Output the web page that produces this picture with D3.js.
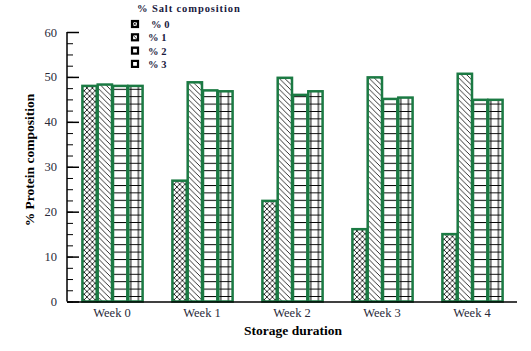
<!DOCTYPE html>
<html>
<head>
<meta charset="utf-8">
<script src="https://cdn.jsdelivr.net/npm/d3@7"></script>
<style>
  body { margin: 0; background: #fff; }
  svg text { font-family: "Liberation Serif", "Times New Roman", serif !important; }
</style>
</head>
<body>
<div id="chart"></div>
<script>
// data
var weeks = ["Week 0", "Week 1", "Week 2", "Week 3", "Week 4"];
var salts = ["% 0", "% 1", "% 2", "% 3"];
var salt0 = [48.0, 26.9, 22.4, 16.1, 15.0];
var salt1 = [48.3, 48.8, 49.8, 49.9, 50.7];
var salt2 = [48.0, 47.0, 46.0, 45.1, 44.9];
var salt3 = [48.0, 46.8, 46.8, 45.4, 44.9];
var yTicks = [0, 10, 20, 30, 40, 50, 60];

var series = [salt0, salt1, salt2, salt3];

var width = 531, height = 351;
var margin = { top: 32, left: 67, right: 14, bottom: 49.5 };
var green = "#1b7a43";
var serif = "'Liberation Serif', 'Times New Roman', serif";

var svg = d3.select("#chart").append("svg")
    .attr("width", width)
    .attr("height", height);

// hatch patterns
var defs = svg.append("defs");

var p0 = defs.append("pattern").attr("id", "pat0")
    .attr("patternUnits", "userSpaceOnUse").attr("width", 5.5).attr("height", 5.5);
p0.append("path").attr("d", "M0,0L5.5,5.5M5.5,0L0,5.5M-1,4.5L1,6.5M4.5,-1L6.5,1M-1,1L1,-1M4.5,6.5L6.5,4.5")
    .attr("stroke", "#000").attr("stroke-width", 0.8);

var p1 = defs.append("pattern").attr("id", "pat1")
    .attr("patternUnits", "userSpaceOnUse").attr("width", 5.5).attr("height", 5.5);
p1.append("path").attr("d", "M0,0L5.5,5.5M-1,4.5L1,6.5M4.5,-1L6.5,1")
    .attr("stroke", "#000").attr("stroke-width", 0.8);

var p2 = defs.append("pattern").attr("id", "pat2")
    .attr("patternUnits", "userSpaceOnUse").attr("width", 7.5).attr("height", 7.4);
p2.append("path").attr("d", "M0,0.5L7.5,0.5")
    .attr("stroke", "#000").attr("stroke-width", 1);

var p3 = defs.append("pattern").attr("id", "pat3")
    .attr("patternUnits", "userSpaceOnUse").attr("width", 7.6).attr("height", 7.4);
p3.append("path").attr("d", "M0,0.5L7.6,0.5M3.8,0L3.8,7.4")
    .attr("stroke", "#000").attr("stroke-width", 1);

var x0 = d3.scaleBand()
    .domain(weeks)
    .range([margin.left, width - margin.right])
    .paddingInner(0.32)
    .paddingOuter(0.16);

var x1 = d3.scaleBand()
    .domain(d3.range(salts.length))
    .range([0, x0.bandwidth()])
    .padding(0);

var y = d3.scaleLinear()
    .domain([0, 60])
    .range([height - margin.bottom, margin.top]);

// bars
var groups = svg.selectAll(".week")
    .data(weeks)
    .enter().append("g")
    .attr("class", "week")
    .attr("transform", function(d) { return "translate(" + x0(d) + ",0)"; });

groups.selectAll("rect")
    .data(function(d, i) { return series.map(function(s, j) { return { k: j, v: s[i] }; }); })
    .enter().append("rect")
    .attr("x", function(d) { return x1(d.k) + 1; })
    .attr("y", function(d) { return y(d.v); })
    .attr("width", x1.bandwidth() - 1)
    .attr("height", function(d) { return y(0) - y(d.v); })
    .attr("fill", function(d) { return "url(#pat" + d.k + ")"; })
    .attr("stroke", green)
    .attr("stroke-width", 2.5);

// y axis: major ticks every 10, minor every 2.5, pointing inside
var yAxisMinor = d3.axisRight(y)
    .tickValues(d3.range(0, 60.1, 2.5))
    .tickSize(6)
    .tickFormat("");
svg.append("g")
    .attr("transform", "translate(" + margin.left + ",0)")
    .call(yAxisMinor)
    .call(function(g) { g.select(".domain").remove(); });

var yAxis = d3.axisLeft(y)
    .tickValues(yTicks)
    .tickSize(0)
    .tickPadding(10);
var yg = svg.append("g")
    .attr("class", "y-axis")
    .attr("transform", "translate(" + margin.left + ",0)")
    .call(yAxis)
    .attr("font-family", serif);
yg.select(".domain").attr("stroke", "#000").attr("stroke-width", 1.5).attr("d", "M0," + y(0) + "V" + y(60));
yg.selectAll("text").attr("font-size", 12.5).attr("fill", "#2a2a3a");
yg.selectAll(".tick").append("line")
    .attr("x1", 0).attr("x2", 12).attr("stroke", "#000").attr("stroke-width", 1.5);
yg.selectAll(".tick").filter(function(d) { return d === 0; }).select("line").remove();

// x axis
var xAxis = d3.axisBottom(x0).tickSize(0).tickPadding(7);
var xg = svg.append("g")
    .attr("class", "x-axis")
    .attr("transform", "translate(0," + y(0) + ")")
    .call(xAxis)
    .attr("font-family", serif);
xg.select(".domain").attr("stroke", "#000").attr("stroke-width", 1.5)
    .attr("d", "M" + margin.left + ",0.5H" + (width - margin.right));
xg.selectAll("text").attr("font-size", 12.5).attr("fill", "#2a2a3a");

// axis titles
svg.append("text")
    .attr("transform", "translate(34," + 160 + ") rotate(-90)")
    .attr("text-anchor", "middle")
    .attr("font-family", serif)
    .attr("font-weight", "bold")
    .attr("font-size", 13.5)
    .text("% Protein composition");

svg.append("text")
    .attr("x", 293)
    .attr("y", 335)
    .attr("text-anchor", "middle")
    .attr("font-family", serif)
    .attr("font-weight", "bold")
    .attr("font-size", 13.5)
    .text("Storage duration");

// legend
var legend = svg.append("g").attr("class", "legend").attr("font-family", serif);
legend.append("text")
    .attr("x", 137).attr("y", 12)
    .attr("font-weight", "bold")
    .attr("font-size", 10.5)
    .attr("letter-spacing", 0.9)
    .attr("fill", "#1a1a40")
    .text("% Salt composition");

var items = legend.selectAll(".item")
    .data(salts)
    .enter().append("g")
    .attr("class", "item")
    .attr("transform", function(d, i) { return "translate(132," + (21 + i * 13.3) + ")"; });

items.append("rect")
    .attr("width", 6).attr("height", 6)
    .attr("fill", function(d, i) { return i === 3 ? "#fff" : "url(#pat" + i + ")"; })
    .attr("stroke", "#000")
    .attr("stroke-width", 2.2);

items.append("text")
    .attr("x", function(d, i) { return i === 0 ? 19 : 16; })
    .attr("y", 7)
    .attr("font-weight", "bold")
    .attr("font-size", 10.5)
    .attr("fill", "#1a1a40")
    .text(function(d) { return d; });
</script>
</body>
</html>
